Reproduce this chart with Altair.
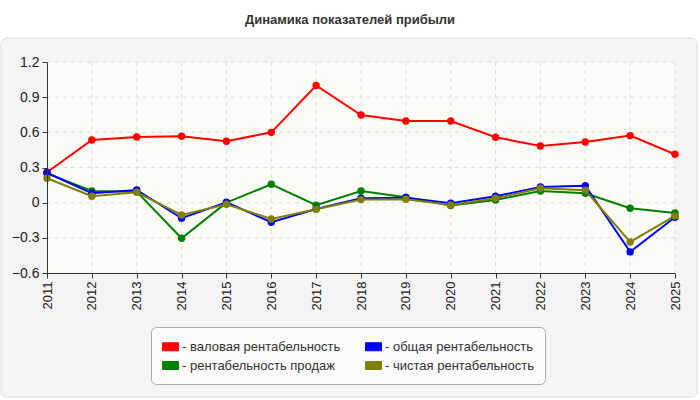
import altair as alt
import pandas as pd

years = list(range(2011, 2026))
y_ticks = [-0.6, -0.3, 0, 0.3, 0.6, 0.9, 1.2]
series_names = [
    "- валовая рентабельность",
    "- рентабельность продаж",
    "- общая рентабельность",
    "- чистая рентабельность",
]
gross = [0.26, 0.535, 0.56, 0.567, 0.524, 0.60, 1.00, 0.748, 0.697, 0.697, 0.558, 0.484, 0.518, 0.572, 0.413]
sales = [0.25, 0.10, 0.094, -0.304, 0.0, 0.157, -0.022, 0.10, 0.046, -0.025, 0.023, 0.10, 0.08, -0.048, -0.088]
overall = [0.255, 0.08, 0.108, -0.133, 0.003, -0.167, -0.054, 0.037, 0.043, -0.005, 0.055, 0.134, 0.145, -0.42, -0.125]
net = [0.208, 0.055, 0.089, -0.105, -0.014, -0.139, -0.056, 0.026, 0.029, -0.02, 0.037, 0.123, 0.106, -0.335, -0.113]
colors = ["#ff0000", "#008000", "#0000ff", "#808000"]
title_text = "Динамика показателей прибыли"

rows = []
for name, vals in zip(series_names, [gross, sales, overall, net]):
    for y, v in zip(years, vals):
        rows.append({"year": y, "value": v, "series": name})
df = pd.DataFrame(rows)

W, H = 628, 211
FONT = "Liberation Sans"

xscale = alt.Scale(domain=[2011, 2025], nice=False, zero=False)
yscale = alt.Scale(domain=[-0.6, 1.2], nice=False, zero=False)

xaxis = alt.Axis(values=years, format="d", labelAngle=-90, title=None, grid=False,
                 domainColor="#333333", tickColor="#333333", tickSize=5,
                 labelFont=FONT, labelFontSize=13, labelColor="#222222",
                 labelPadding=3, zindex=1)
yaxis = alt.Axis(values=y_ticks,
                 labelExpr="datum.value == 0 ? '0' : format(datum.value, '.1f')",
                 title=None, grid=False, domainColor="#333333", tickColor="#333333",
                 tickSize=5, labelFont=FONT, labelFontSize=14, labelColor="#222222",
                 labelPadding=3, zindex=1)

panel = alt.Chart(pd.DataFrame({"a": [0]})).mark_rect(
    fill="#f4f4f4", stroke="#dcdcdc", cornerRadius=6, strokeWidth=1
).encode(x=alt.value(-46), x2=alt.value(650), y=alt.value(-24), y2=alt.value(335))

plotbg = alt.Chart(pd.DataFrame({"a": [0]})).mark_rect(
    fill="#fbfbf5", stroke=None
).encode(x=alt.value(0), x2=alt.value(W), y=alt.value(0), y2=alt.value(H))

title = alt.Chart(pd.DataFrame({"t": [title_text]})).mark_text(
    font=FONT, fontSize=13, fontWeight="bold", color="#333333", align="center", baseline="middle"
).encode(text="t:N", x=alt.value(303), y=alt.value(-42))

vgrid = alt.Chart(pd.DataFrame({"year": years[1:]})).mark_rule(
    color="#dddddd", strokeDash=[4, 4], strokeWidth=1
).encode(x=alt.X("year:Q", scale=xscale, axis=xaxis))
hgrid = alt.Chart(pd.DataFrame({"value": y_ticks[1:]})).mark_rule(
    color="#dddddd", strokeDash=[4, 4], strokeWidth=1
).encode(y=alt.Y("value:Q", scale=yscale, axis=yaxis))

xenc = alt.X("year:Q", scale=xscale, axis=xaxis)
yenc = alt.Y("value:Q", scale=yscale, axis=yaxis)

color = alt.Color("series:N", scale=alt.Scale(domain=series_names, range=colors),
                  legend=alt.Legend(title=None, orient="none", legendX=104, legendY=265,
                                    columns=2, columnPadding=22, rowPadding=3,
                                    symbolType="M-1,-0.5L1,-0.5L1,0.5L-1,0.5Z", symbolSize=256,
                                    symbolStrokeWidth=1, symbolStrokeColor="#888888",
                                    labelFont=FONT, labelFontSize=13, labelColor="#333333",
                                    labelOffset=3, labelLimit=300,
                                    fillColor="#fbfbfb", strokeColor="#aaaaaa", cornerRadius=5,
                                    padding=11))

lines = alt.Chart(df).mark_line(strokeWidth=2).encode(x=xenc, y=yenc, color=color)
points = alt.Chart(df).mark_circle(size=55, opacity=1).encode(x=xenc, y=yenc, color=color)

chart = alt.layer(panel, plotbg, vgrid, hgrid, title, lines, points).properties(
    width=W, height=H, padding={"left": 47, "top": 62, "right": 25, "bottom": 127},
    autosize=alt.AutoSizeParams(type="none"), background="white"
).configure_view(stroke=None)

chart.save("out.html", embed_options={"renderer": "svg", "actions": False})
